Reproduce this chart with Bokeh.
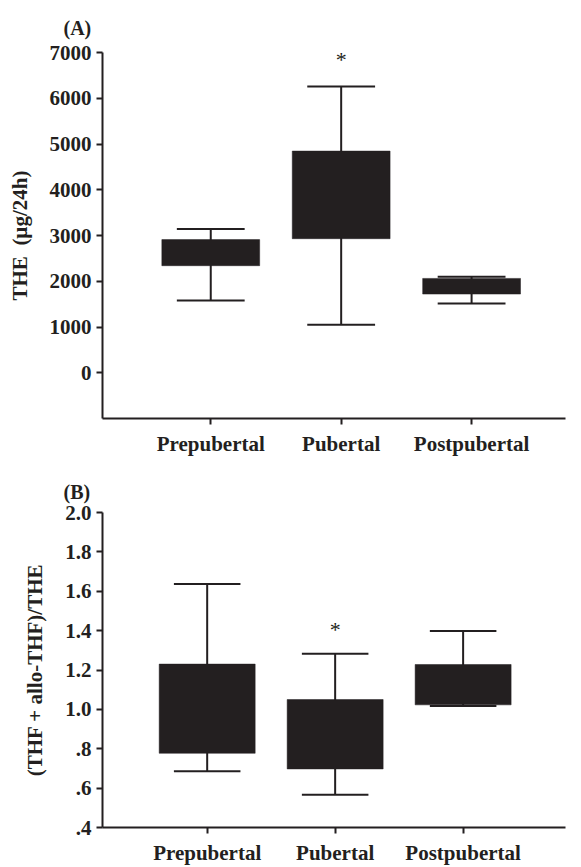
from bokeh.plotting import figure
from bokeh.layouts import column
from bokeh.models import FixedTicker
from bokeh.core.properties import value
from bokeh.embed import file_html
from bokeh.resources import INLINE

categories = ["Prepubertal", "Pubertal", "Postpubertal"]
cat_pos = [1, 2, 3]

# Panel A: THE (µg/24h)
the_low = [1580, 1050, 1516]
the_q1 = [2340, 2930, 1720]
the_q3 = [2910, 4845, 2062]
the_high = [3140, 6255, 2098]
the_ticks = [0, 1000, 2000, 3000, 4000, 5000, 6000, 7000]

# Panel B: (THF + allo-THF)/THE
ratio_low = [0.686, 0.566, 1.017]
ratio_q1 = [0.777, 0.6975, 1.023]
ratio_q3 = [1.230, 1.050, 1.228]
ratio_high = [1.637, 1.283, 1.398]
ratio_ticks = [0.4, 0.6, 0.8, 1.0, 1.2, 1.4, 1.6, 1.8, 2.0]
ratio_tick_labels = [".4", ".6", ".8", "1.0", "1.2", "1.4", "1.6", "1.8", "2.0"]

signif_index = 1  # Pubertal marked with *

INK = "#231f20"
FONT = "Liberation Serif"
BOX_W = 0.75
CAP_HALF = 0.26


def make_panel(title, ylabel, low, q1, q3, high, yticks, ytick_labels, x_range, y_range,
               height, borders, title_standoff, star_offset):
    p = figure(width=581, height=height, x_range=x_range, y_range=y_range,
               output_backend="svg", toolbar_location=None,
               min_border_left=borders[0], min_border_right=borders[1],
               min_border_top=borders[2], min_border_bottom=borders[3])
    p.outline_line_color = None
    p.xgrid.visible = False
    p.ygrid.visible = False
    p.background_fill_color = "white"

    # whisker stems
    p.segment(x0=cat_pos, y0=low, x1=cat_pos, y1=high, line_color=INK, line_width=2)
    # boxes
    p.vbar(x=cat_pos, width=BOX_W, bottom=q1, top=q3, fill_color=INK, line_color=INK,
           line_width=0.5)
    # caps
    cx0 = [x - CAP_HALF for x in cat_pos]
    cx1 = [x + CAP_HALF for x in cat_pos]
    p.segment(x0=cx0, y0=high, x1=cx1, y1=high, line_color=INK, line_width=2)
    p.segment(x0=cx0, y0=low, x1=cx1, y1=low, line_color=INK, line_width=2)

    # significance star
    p.text(x=[cat_pos[signif_index]], y=[high[signif_index]], text=["*"],
           text_align="center", text_baseline="alphabetic", y_offset=star_offset,
           text_font=value(FONT), text_font_size="22px", text_color=INK)

    p.title.text = title
    p.title.text_font = FONT
    p.title.text_font_size = "20px"
    p.title.text_font_style = "bold"
    p.title.text_color = INK
    p.title.align = "left"
    p.title.offset = -39
    p.title.standoff = title_standoff

    for ax in (p.xaxis[0], p.yaxis[0]):
        ax.axis_line_color = INK
        ax.axis_line_width = 2
        ax.major_tick_line_color = INK
        ax.major_tick_line_width = 2
        ax.major_tick_out = 6
        ax.major_tick_in = 0
        ax.minor_tick_line_color = None
        ax.major_label_text_font = FONT
        ax.major_label_text_font_size = "21px"
        ax.major_label_text_font_style = "bold"
        ax.major_label_text_color = INK
        ax.axis_label_text_font = FONT
        ax.axis_label_text_font_size = "21px"
        ax.axis_label_text_font_style = "bold"
        ax.axis_label_text_color = INK

    p.xaxis.ticker = FixedTicker(ticks=cat_pos)
    p.xaxis.major_label_overrides = {c: n for c, n in zip(cat_pos, categories)}
    p.xaxis.major_label_standoff = 7

    p.yaxis.ticker = FixedTicker(ticks=yticks)
    p.yaxis.major_label_overrides = {t: l for t, l in zip(yticks, ytick_labels)}
    p.yaxis.major_label_standoff = 5
    p.yaxis.axis_label = ylabel
    p.yaxis.axis_label_standoff = 15
    return p


pa = make_panel("(A)", "THE\u00a0\u00a0(µg/24h)", the_low, the_q1, the_q3, the_high,
                the_ticks, [str(t) for t in the_ticks], (0.17, 3.72), (-1000, 7000),
                458, (102, 16, 52, 40), 28, -27)
pb = make_panel("(B)", "(THF + allo-THF)/THE", ratio_low, ratio_q1, ratio_q3, ratio_high,
                ratio_ticks, ratio_tick_labels, (0.182, 3.80), (0.4, 2.0),
                409, (102, 1, 54, 38), 20, -24)

layout = column(pa, pb, spacing=0)
open("out.html", "w").write(file_html(layout, INLINE))
